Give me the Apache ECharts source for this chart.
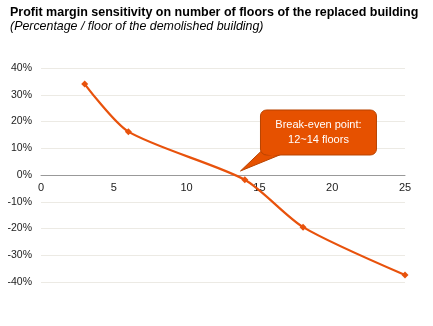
<!DOCTYPE html>
<html>
<head>
<meta charset="utf-8">
<style>
  html, body { margin: 0; padding: 0; background: #fff; }
  #chart { width: 433px; height: 326px; }
</style>
<script src="https://cdn.jsdelivr.net/npm/echarts@6/dist/echarts.min.js"></script>
</head>
<body>
<div id="chart"></div>
<script>
// Floors of the demolished building vs. profit margin (%)
const floors = [3, 6, 14, 18, 25];
const margins = [34, 16.2, -1.8, -19.5, -37.4];
const xTicks = { min: 0, max: 25, step: 5 };
const yTicks = { min: -40, max: 40, step: 10 };
const calloutLines = ['Break-even point:', '12~14 floors'];
const calloutAnchor = [13.7, 1.5];

const orange = '#E8520C';
const chart = echarts.init(document.getElementById('chart'), null, { renderer: 'canvas' });

const option = {
  animation: false,
  title: [
    {
      text: 'Profit margin sensitivity on number of floors of the replaced building',
      left: 5, top: 1,
      textStyle: { fontFamily: 'Liberation Sans, Arial', fontSize: 12.5, fontWeight: 'bold', color: '#000' }
    },
    {
      text: '(Percentage / floor of the demolished building)',
      left: 5, top: 16,
      textStyle: { fontFamily: 'Liberation Sans, Arial', fontSize: 12.4, fontStyle: 'italic', fontWeight: 'normal', color: '#000' }
    }
  ],
  grid: { left: 41, right: 28, top: 68, bottom: 44, containLabel: false },
  xAxis: {
    type: 'value',
    min: xTicks.min, max: xTicks.max, interval: xTicks.step,
    axisLine: { onZero: false, lineStyle: { color: '#999', width: 1 } },
    axisTick: { show: false },
    splitLine: { show: false },
    axisLabel: { color: '#222', fontFamily: 'Liberation Sans, Arial', fontSize: 11, margin: 7 }
  },
  yAxis: {
    type: 'value',
    min: yTicks.min, max: yTicks.max, interval: yTicks.step,
    axisLine: { show: false },
    axisTick: { show: false },
    splitLine: { lineStyle: { color: '#ECEAE4', width: 1 } },
    axisLabel: { color: '#222', fontFamily: 'Liberation Sans, Arial', fontSize: 10.5, margin: 9, formatter: v => v + '%' }
  },
  series: [{
    type: 'line',
    data: floors.map((f, i) => [f, margins[i]]),
    smooth: 0.25,
    symbol: 'diamond',
    symbolSize: 7,
    lineStyle: { color: orange, width: 2.2 },
    itemStyle: { color: orange }
  }]
};
chart.setOption(option);

// Lift the floor axis (line and labels) up to the 0% level
const zeroY = chart.convertToPixel({ yAxisIndex: 0 }, 0);
const bottomY = chart.convertToPixel({ yAxisIndex: 0 }, yTicks.min);
chart.setOption({ xAxis: { offset: zeroY - bottomY } });

// Speech-bubble annotation pointing at the break-even crossing
const tip = chart.convertToPixel({ gridIndex: 0 }, calloutAnchor);
const boxX = tip[0] + 20, boxY = tip[1] - 61, boxW = 116, boxH = 45;
chart.setOption({
  graphic: [
    {
      type: 'polygon',
      shape: { points: [[boxX + 3, boxY + boxH - 6], [boxX + 24, boxY + boxH - 2], tip] },
      style: { fill: '#E65100', stroke: '#B84300', lineWidth: 1 },
      z: 100
    },
    {
      type: 'rect',
      shape: { x: boxX, y: boxY, width: boxW, height: boxH, r: 6 },
      style: { fill: '#E65100', stroke: '#B84300', lineWidth: 1 },
      z: 101
    },
    {
      type: 'polygon',
      shape: { points: [[boxX + 4, boxY + boxH - 1.5], [boxX + 23, boxY + boxH - 1.5], [boxX + 12, boxY + boxH + 1]] },
      style: { fill: '#E65100' },
      z: 102
    },
    {
      type: 'text',
      x: boxX + boxW / 2, y: boxY + boxH / 2,
      style: {
        text: calloutLines.join('\n'),
        fill: '#fff', font: '11px "Liberation Sans", Arial',
        align: 'center', verticalAlign: 'middle', lineHeight: 15
      },
      z: 103
    }
  ]
});
</script>
</body>
</html>
